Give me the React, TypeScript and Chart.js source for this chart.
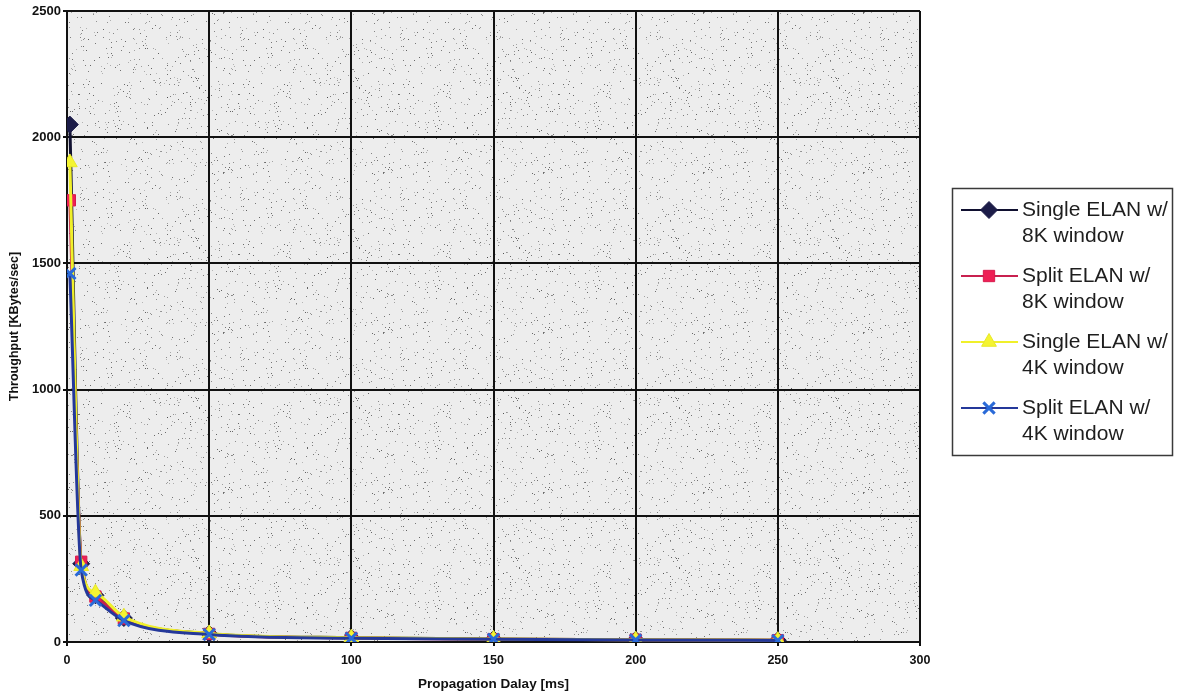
import React, { useEffect, useRef } from 'react';
import { Chart, registerables } from 'chart.js';
import { drawPoint } from 'chart.js/helpers';

Chart.register(...registerables);

// ---- Data ----
const delaysMs = [1, 5, 10, 20, 50, 100, 150, 200, 250];
const singleElan8K = [2050, 310, 185, 95, 33, 17, 12, 9, 7];
const splitElan8K = [1750, 318, 180, 93, 32, 16, 11, 9, 7];
const singleElan4K = [1900, 300, 195, 100, 34, 17, 12, 9, 7];
const splitElan4K = [1460, 285, 165, 85, 30, 15, 11, 8, 6];
const seriesLabels = [
  ['Single ELAN w/', '8K window'],
  ['Split ELAN w/', '8K window'],
  ['Single ELAN w/', '4K window'],
  ['Split ELAN w/', '4K window'],
];
const xTitle = 'Propagation Dalay [ms]';
const yTitle = 'Throughput [KBytes/sec]';

const FONT = "'Liberation Sans', Arial, sans-serif";

function makeStipple(ctx: CanvasRenderingContext2D) {
  const size = 160;
  const c = document.createElement('canvas');
  c.width = size;
  c.height = size;
  const g = c.getContext('2d')!;
  g.fillStyle = '#ededed';
  g.fillRect(0, 0, size, size);
  let s = 987654;
  const next = () => {
    s = (s * 1103515245 + 12345) % 2147483648;
    return s / 2147483648;
  };
  for (let i = 0; i < 600; i++) {
    const x = Math.floor(next() * size);
    const y = Math.floor(next() * size);
    const a = 0.3 + next() * 0.5;
    g.fillStyle = `rgba(60,60,60,${a.toFixed(2)})`;
    g.fillRect(x, y, 1, 1);
  }
  return ctx.createPattern(c, 'repeat');
}

const backgroundPlugin = {
  id: 'stippleBg',
  beforeDraw(chart: any) {
    const { ctx, chartArea } = chart;
    if (!chartArea) return;
    ctx.save();
    ctx.fillStyle = makeStipple(ctx) || '#ececec';
    ctx.fillRect(chartArea.left, chartArea.top, chartArea.right - chartArea.left, chartArea.bottom - chartArea.top);
    ctx.restore();
  },
};

const legendPlugin = {
  id: 'boxLegend',
  afterDraw(chart: any) {
    const ctx: CanvasRenderingContext2D = chart.ctx;
    const left = chart.chartArea.right + 32;
    const top = 188;
    const w = 220;
    const h = 267;
    ctx.save();
    ctx.fillStyle = '#ffffff';
    ctx.fillRect(left, top, w, h);
    ctx.strokeStyle = '#3a3a3a';
    ctx.lineWidth = 1.5;
    ctx.strokeRect(left + 0.5, top + 0.5, w, h);
    chart.data.datasets.forEach((ds: any) => {
      const idx = ds.legendIndex;
      const y0 = top + 22 + idx * 66;
      ctx.strokeStyle = ds.borderColor;
      ctx.lineWidth = 2;
      ctx.beginPath();
      ctx.moveTo(left + 9, y0);
      ctx.lineTo(left + 66, y0);
      ctx.stroke();
      ctx.fillStyle = ds.pointBackgroundColor;
      ctx.strokeStyle = ds.pointBorderColor;
      ctx.lineWidth = ds.pointBorderWidth;
      drawPoint(ctx, { pointStyle: ds.pointStyle, radius: ds.pointRadius, borderWidth: ds.pointBorderWidth, rotation: 0 }, left + 37, y0);
      ctx.fillStyle = '#1e1e1e';
      ctx.font = `21px ${FONT}`;
      ctx.textBaseline = 'middle';
      ctx.textAlign = 'left';
      const lines = seriesLabels[idx];
      lines.forEach((t, j) => ctx.fillText(t, left + 70, y0 + j * 26));
    });
    ctx.restore();
  },
};

export default function App() {
  const ref = useRef<HTMLCanvasElement | null>(null);
  useEffect(() => {
    if (!ref.current) return;
    const mk = (data: number[], i: number, line: string, fill: string, stroke: string, style: string, r: number, bw: number, order: number) => ({
      label: seriesLabels[i].join(' '),
      legendIndex: i,
      data: delaysMs.map((x, k) => ({ x, y: data[k] })),
      borderColor: line,
      borderWidth: 3,
      pointBackgroundColor: fill,
      pointBorderColor: stroke,
      pointBorderWidth: bw,
      pointStyle: style,
      pointRadius: r,
      tension: 0.3,
      cubicInterpolationMode: 'monotone',
      order,
    });
    const chart = new Chart(ref.current, {
      type: 'line',
      data: {
        datasets: [
          mk(singleElan8K, 0, '#101030', '#1c1c48', '#1c1c48', 'rectRot', 8.5, 1, 3),
          mk(splitElan8K, 1, '#c8204f', '#ee1f55', '#d81a4c', 'rect', 8, 1, 2),
          mk(singleElan4K, 2, '#f0f02a', '#f4f432', '#e8e828', 'triangle', 8.5, 1, 1),
          mk(splitElan4K, 3, '#24389a', '#2a6ad8', '#2a6ad8', 'crossRot', 8, 3, 0),
        ] as any,
      },
      options: {
        animation: false,
        responsive: true,
        maintainAspectRatio: false,
        layout: { padding: { top: 10, right: 268, bottom: 0, left: 0 } },
        plugins: { legend: { display: false }, tooltip: { enabled: false } },
        scales: {
          x: {
            type: 'linear',
            min: 0,
            max: 300,
            ticks: { stepSize: 50, color: '#111', font: { family: FONT, size: 12.5, weight: 'bold' }, padding: 7, callback: (v: any) => String(v) },
            grid: { color: '#111', lineWidth: 2, tickLength: 4 },
            border: { color: '#111', width: 2 },
            title: { display: true, text: xTitle, color: '#111', font: { family: FONT, size: 13.5, weight: 'bold' }, padding: { top: 4, bottom: 6 } },
            afterFit: (s: any) => { s.height = 56; },
          },
          y: {
            min: 0,
            max: 2500,
            ticks: { stepSize: 500, color: '#111', font: { family: FONT, size: 13, weight: 'bold' }, padding: 2, callback: (v: any) => String(v) },
            grid: { color: '#111', lineWidth: 2, tickLength: 4 },
            border: { color: '#111', width: 2 },
            title: { display: true, text: yTitle, color: '#111', font: { family: FONT, size: 12.5, weight: 'bold' }, padding: { top: 7, bottom: 4 } },
            afterFit: (s: any) => { s.width = 67; },
          },
        },
      } as any,
      plugins: [backgroundPlugin, legendPlugin],
    });
    return () => chart.destroy();
  }, []);
  return (
    <div style={{ position: 'absolute', left: 0, top: 0, width: 1188, height: 698, background: '#fff' }}>
      <canvas ref={ref} />
    </div>
  );
}
